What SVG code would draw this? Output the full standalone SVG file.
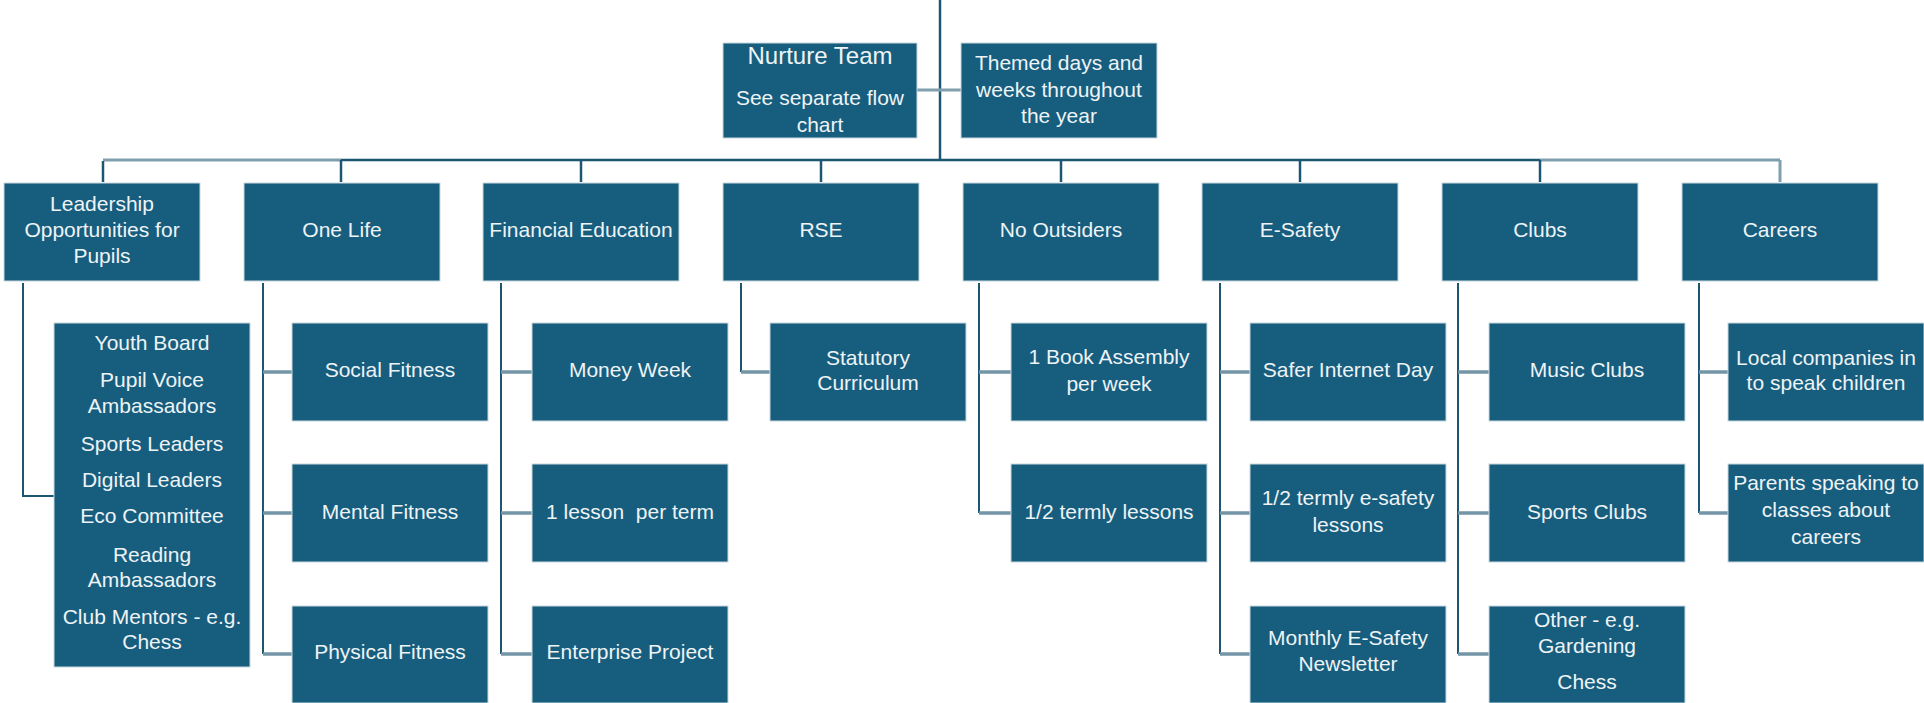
<svg xmlns="http://www.w3.org/2000/svg" width="1924" height="703" viewBox="0 0 1924 703">
<style>
.box{fill:#175e7e;stroke:#c9d8e0;stroke-width:1}
.t{font-family:"Liberation Sans",Arial,sans-serif;font-size:21px;fill:#eef3f6;text-anchor:middle}
.title{font-size:24px}
.dk{stroke:#1c5672;stroke-width:2.5;fill:none}
.lt{stroke:#7f9fae;stroke-width:3;fill:none}
.v{stroke:#1c5672;stroke-width:2;fill:none}
.h{stroke:#7495a6;stroke-width:3.5;fill:none}
</style>
<rect width="1924" height="703" fill="#ffffff"/>
<g id="connectors">
<line class="dk" x1="940" y1="0" x2="940" y2="161"/>
<line class="lt" x1="917" y1="90" x2="961" y2="90"/>
<line class="lt" x1="103" y1="160" x2="341" y2="160"/>
<line class="dk" x1="341" y1="160" x2="1540" y2="160"/>
<line class="lt" x1="1540" y1="160" x2="1780" y2="160"/>
<polyline class="dk" points="103,161 103,182"/>
<line class="dk" x1="341" y1="160" x2="341" y2="182"/>
<line class="dk" x1="581" y1="160" x2="581" y2="182"/>
<line class="dk" x1="821" y1="160" x2="821" y2="182"/>
<line class="dk" x1="1061" y1="160" x2="1061" y2="182"/>
<line class="dk" x1="1300" y1="160" x2="1300" y2="182"/>
<line class="dk" x1="1540" y1="160" x2="1540" y2="182"/>
<line class="lt" x1="1780" y1="160" x2="1780" y2="182"/>
<polyline class="v" points="23,283 23,496 54,496"/>
<line class="v" x1="263" y1="283" x2="263" y2="654"/>
<line class="h" x1="263" y1="372" x2="292" y2="372"/>
<line class="h" x1="263" y1="513" x2="292" y2="513"/>
<line class="h" x1="263" y1="654" x2="292" y2="654"/>
<line class="v" x1="501" y1="283" x2="501" y2="654"/>
<line class="h" x1="501" y1="372" x2="532" y2="372"/>
<line class="h" x1="501" y1="513" x2="532" y2="513"/>
<line class="h" x1="501" y1="654" x2="532" y2="654"/>
<line class="v" x1="741" y1="283" x2="741" y2="372"/>
<line class="h" x1="741" y1="372" x2="770" y2="372"/>
<line class="v" x1="979" y1="283" x2="979" y2="513"/>
<line class="h" x1="979" y1="372" x2="1011" y2="372"/>
<line class="h" x1="979" y1="513" x2="1011" y2="513"/>
<line class="v" x1="1220" y1="283" x2="1220" y2="654"/>
<line class="h" x1="1220" y1="372" x2="1250" y2="372"/>
<line class="h" x1="1220" y1="513" x2="1250" y2="513"/>
<line class="h" x1="1220" y1="654" x2="1250" y2="654"/>
<line class="v" x1="1458" y1="283" x2="1458" y2="654"/>
<line class="h" x1="1458" y1="372" x2="1489" y2="372"/>
<line class="h" x1="1458" y1="513" x2="1489" y2="513"/>
<line class="h" x1="1458" y1="654" x2="1489" y2="654"/>
<line class="v" x1="1699" y1="283" x2="1699" y2="513"/>
<line class="h" x1="1699" y1="372" x2="1728" y2="372"/>
<line class="h" x1="1699" y1="513" x2="1728" y2="513"/>
</g>
<g id="nurture"><rect class="box" x="723" y="43" width="194" height="95"/>
<text class="t title" x="820" y="64">Nurture Team</text>
<text class="t" x="820" y="105">See separate flow</text>
<text class="t" x="820" y="132">chart</text></g>
<g id="themed"><rect class="box" x="961" y="43" width="196" height="95"/>
<text class="t" x="1059" y="70">Themed days and</text>
<text class="t" x="1059" y="97">weeks throughout</text>
<text class="t" x="1059" y="123">the year</text></g>
<g id="leadership"><rect class="box" x="4" y="183" width="196" height="98"/>
<text class="t" x="102" y="211">Leadership</text>
<text class="t" x="102" y="237">Opportunities for</text>
<text class="t" x="102" y="263">Pupils</text></g>
<g id="onelife"><rect class="box" x="244" y="183" width="196" height="98"/><text class="t" x="342" y="237">One Life</text></g>
<g id="financial"><rect class="box" x="483" y="183" width="196" height="98"/><text class="t" x="581" y="237">Financial Education</text></g>
<g id="rse"><rect class="box" x="723" y="183" width="196" height="98"/><text class="t" x="821" y="237">RSE</text></g>
<g id="nooutsiders"><rect class="box" x="963" y="183" width="196" height="98"/><text class="t" x="1061" y="237">No Outsiders</text></g>
<g id="esafety"><rect class="box" x="1202" y="183" width="196" height="98"/><text class="t" x="1300" y="237">E-Safety</text></g>
<g id="clubs"><rect class="box" x="1442" y="183" width="196" height="98"/><text class="t" x="1540" y="237">Clubs</text></g>
<g id="careers"><rect class="box" x="1682" y="183" width="196" height="98"/><text class="t" x="1780" y="237">Careers</text></g>
<g id="leadership-list"><rect class="box" x="54" y="323" width="196" height="344"/>
<text class="t" x="152" y="350">Youth Board</text>
<text class="t" x="152" y="387">Pupil Voice</text>
<text class="t" x="152" y="413">Ambassadors</text>
<text class="t" x="152" y="451">Sports Leaders</text>
<text class="t" x="152" y="487">Digital Leaders</text>
<text class="t" x="152" y="523">Eco Committee</text>
<text class="t" x="152" y="562">Reading</text>
<text class="t" x="152" y="587">Ambassadors</text>
<text class="t" x="152" y="624">Club Mentors - e.g.</text>
<text class="t" x="152" y="649">Chess</text></g>
<g id="social"><rect class="box" x="292" y="323" width="196" height="98"/><text class="t" x="390" y="377">Social Fitness</text></g>
<g id="mental"><rect class="box" x="292" y="464" width="196" height="98"/><text class="t" x="390" y="519">Mental Fitness</text></g>
<g id="physical"><rect class="box" x="292" y="606" width="196" height="97"/><text class="t" x="390" y="659">Physical Fitness</text></g>
<g id="money"><rect class="box" x="532" y="323" width="196" height="98"/><text class="t" x="630" y="377">Money Week</text></g>
<g id="lesson"><rect class="box" x="532" y="464" width="196" height="98"/><text class="t" x="630" y="519" xml:space="preserve">1 lesson  per term</text></g>
<g id="enterprise"><rect class="box" x="532" y="606" width="196" height="97"/><text class="t" x="630" y="659">Enterprise Project</text></g>
<g id="statutory"><rect class="box" x="770" y="323" width="196" height="98"/>
<text class="t" x="868" y="365">Statutory</text><text class="t" x="868" y="390">Curriculum</text></g>
<g id="bookassembly"><rect class="box" x="1011" y="323" width="196" height="98"/>
<text class="t" x="1109" y="364">1 Book Assembly</text><text class="t" x="1109" y="391">per week</text></g>
<g id="termly"><rect class="box" x="1011" y="464" width="196" height="98"/><text class="t" x="1109" y="519">1/2 termly lessons</text></g>
<g id="safer"><rect class="box" x="1250" y="323" width="196" height="98"/><text class="t" x="1348" y="377">Safer Internet Day</text></g>
<g id="esafety-lessons"><rect class="box" x="1250" y="464" width="196" height="98"/>
<text class="t" x="1348" y="505">1/2 termly e-safety</text><text class="t" x="1348" y="532">lessons</text></g>
<g id="newsletter"><rect class="box" x="1250" y="606" width="196" height="97"/>
<text class="t" x="1348" y="645">Monthly E-Safety</text><text class="t" x="1348" y="671">Newsletter</text></g>
<g id="music"><rect class="box" x="1489" y="323" width="196" height="98"/><text class="t" x="1587" y="377">Music Clubs</text></g>
<g id="sports"><rect class="box" x="1489" y="464" width="196" height="98"/><text class="t" x="1587" y="519">Sports Clubs</text></g>
<g id="other"><rect class="box" x="1489" y="606" width="196" height="97"/>
<text class="t" x="1587" y="627">Other - e.g.</text><text class="t" x="1587" y="653">Gardening</text><text class="t" x="1587" y="689">Chess</text></g>
<g id="local"><rect class="box" x="1728" y="323" width="196" height="98"/>
<text class="t" x="1826" y="365">Local companies in</text><text class="t" x="1826" y="390">to speak children</text></g>
<g id="parents"><rect class="box" x="1728" y="464" width="196" height="98"/>
<text class="t" x="1826" y="490">Parents speaking to</text><text class="t" x="1826" y="517">classes about</text><text class="t" x="1826" y="544">careers</text></g>
</svg>
